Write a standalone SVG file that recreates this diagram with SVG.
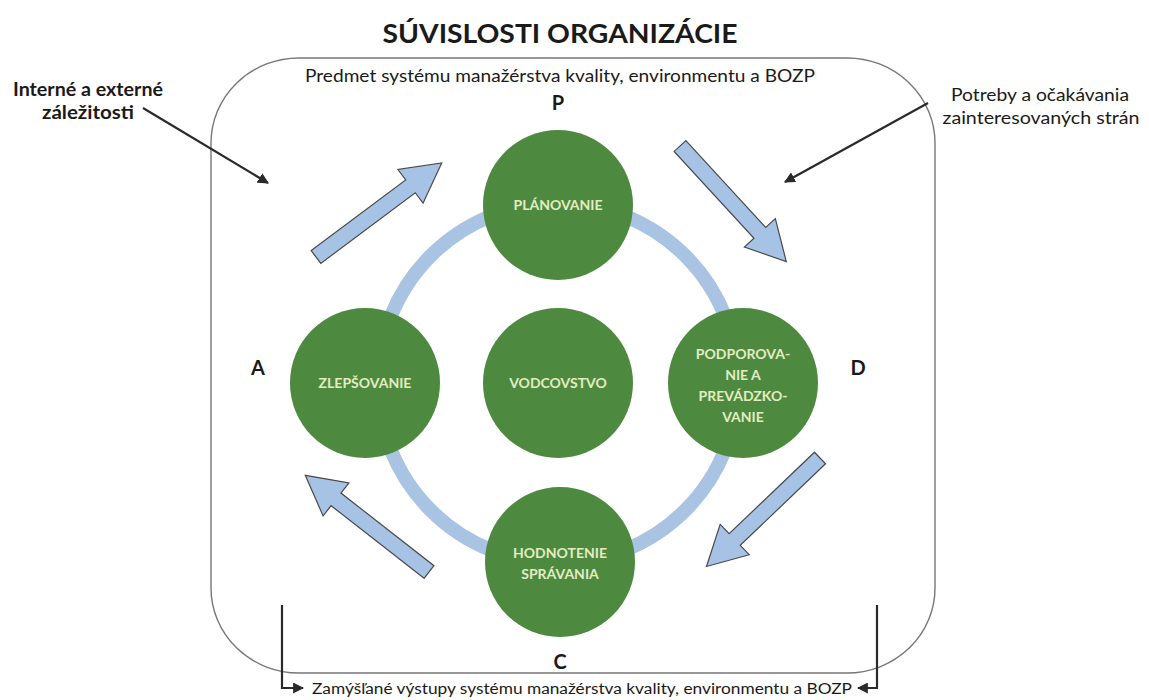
<svg xmlns="http://www.w3.org/2000/svg" width="1149" height="700" viewBox="0 0 1149 700">
<defs>
<style>
text{font-family:Lato,"Open Sans","Liberation Sans",sans-serif;fill:#1a1a1a}
.lbl{font-size:20px;font-weight:700;text-anchor:middle}
.c{fill:#4d8a3f}
.ct{font-size:14px;font-weight:700;fill:#e4ecc2;text-anchor:middle}
.ba{fill:#a6c3e6;stroke:#4a4a4a;stroke-width:1.2;stroke-linejoin:miter}
.ln{stroke:#2a2a2a;stroke-width:2.2;fill:none}
.side{font-size:18px;text-anchor:middle}
</style>
<marker id="ah" viewBox="0 0 10 10" refX="9" refY="5" markerWidth="5" markerHeight="5" orient="auto" markerUnits="strokeWidth">
<path d="M0,0 L10,5 L0,10 Z" fill="#2a2a2a"/>
</marker>
<path id="barrow" d="M0,-8 L118,-8 L118,-21 L157,0 L118,21 L118,8 L0,8 Z"/>
</defs>
<rect width="1149" height="700" fill="#fff"/>
<text x="560" y="43" text-anchor="middle" font-size="26" font-weight="700" textLength="355" lengthAdjust="spacingAndGlyphs">SÚVISLOSTI ORGANIZÁCIE</text>
<g id="frame">
<rect x="211" y="58" width="724" height="615" rx="88" ry="85" fill="none" stroke="#777" stroke-width="1.4"/>
<text x="560" y="82" text-anchor="middle" font-size="17" textLength="510" lengthAdjust="spacingAndGlyphs">Predmet systému manažérstva kvality, environmentu a BOZP</text>
</g>
<g id="ring">
<circle cx="558" cy="383" r="180" fill="none" stroke="#a9c3e3" stroke-width="14"/>
</g>
<g id="connectors">
<use href="#barrow" class="ba" transform="translate(316,257) rotate(-36.8)"/>
<use href="#barrow" class="ba" transform="translate(680,146) rotate(47.4)"/>
<use href="#barrow" class="ba" transform="translate(820,458) rotate(136.3)"/>
<use href="#barrow" class="ba" transform="translate(429,572) rotate(-142)"/>
<line class="ln" x1="143" y1="108" x2="268" y2="183" marker-end="url(#ah)"/>
<line class="ln" x1="928" y1="103" x2="785" y2="182" marker-end="url(#ah)"/>
<polyline class="ln" points="282,605 282,688 303,688" marker-end="url(#ah)"/>
<polyline class="ln" points="877,605 877,688 858,688" marker-end="url(#ah)"/>
</g>
<g id="n-plan"><circle class="c" cx="558" cy="205" r="75"/><text class="ct" x="558" y="210">PLÁNOVANIE</text></g>
<g id="n-zlep"><circle class="c" cx="365" cy="383" r="75"/><text class="ct" x="365" y="388">ZLEPŠOVANIE</text></g>
<g id="n-vod"><circle class="c" cx="558" cy="383" r="75"/><text class="ct" x="558" y="388">VODCOVSTVO</text></g>
<g id="n-pod"><circle class="c" cx="743" cy="383" r="75"/>
<text class="ct" x="743" y="359">PODPOROVA-</text><text class="ct" x="743" y="380">NIE A</text><text class="ct" x="743" y="401">PREVÁDZKO-</text><text class="ct" x="743" y="422">VANIE</text></g>
<g id="n-hod"><circle class="c" cx="560" cy="562" r="75"/><text class="ct" x="560" y="558">HODNOTENIE</text><text class="ct" x="560" y="579">SPRÁVANIA</text></g>
<g id="labels">
<text class="lbl" x="558" y="110">P</text>
<text class="lbl" x="258" y="375">A</text>
<text class="lbl" x="858" y="375">D</text>
<text class="lbl" x="560" y="669">C</text>
<text class="side" x="88" y="96" font-weight="700" fill="#222" textLength="150" lengthAdjust="spacingAndGlyphs">Interné a externé</text>
<text class="side" x="88" y="119" font-weight="700" fill="#222" textLength="92" lengthAdjust="spacingAndGlyphs">záležitosti</text>
<text class="side" x="1040" y="101" textLength="178" lengthAdjust="spacingAndGlyphs">Potreby a očakávania</text>
<text class="side" x="1041" y="124" textLength="197" lengthAdjust="spacingAndGlyphs">zainteresovaných strán</text>
<text x="582" y="694" text-anchor="middle" font-size="14.5" textLength="540" lengthAdjust="spacingAndGlyphs">Zamýšľané výstupy systému manažérstva kvality, environmentu a BOZP</text>
</g>
</svg>
